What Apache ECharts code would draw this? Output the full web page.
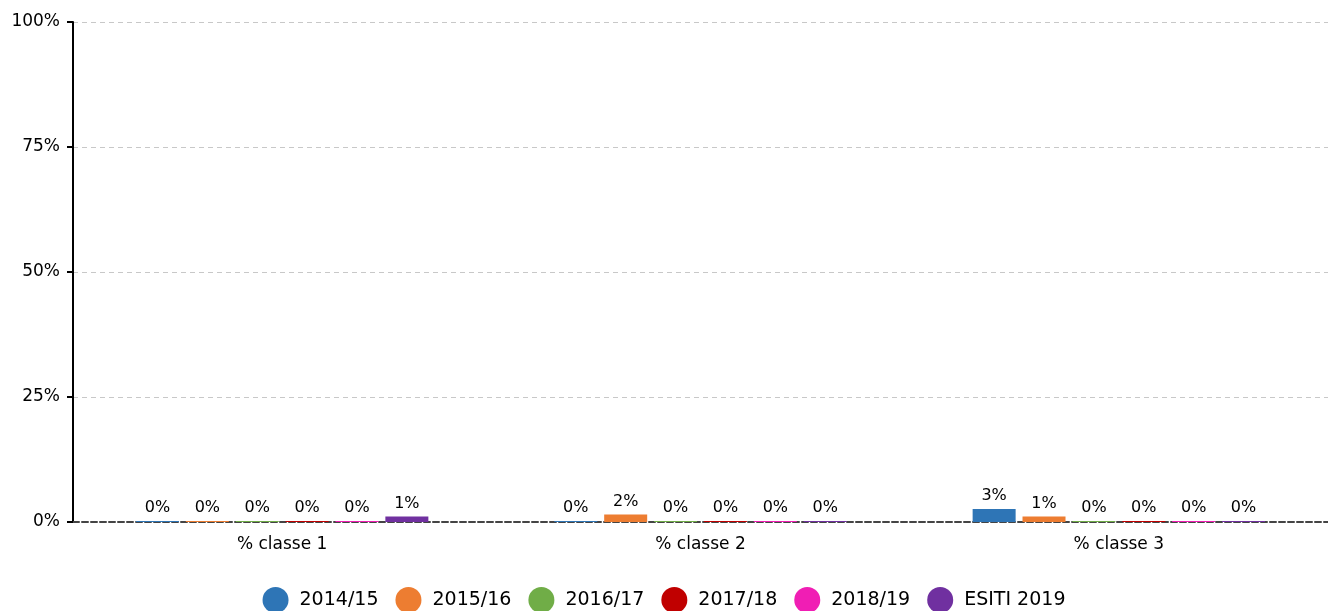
<!DOCTYPE html>
<html>
<head>
<meta charset="utf-8">
<script src="https://cdn.jsdelivr.net/npm/echarts@6/dist/echarts.min.js"></script>
<style>
  html, body { margin: 0; padding: 0; background: #fff; }
  #main { width: 1328px; height: 611px; }
</style>
</head>
<body>
<div id="main"></div>
<script>
// categorie e serie
var categories = ['% classe 1', '% classe 2', '% classe 3']
var seriesNames = ['2014/15', '2015/16', '2016/17', '2017/18', '2018/19', 'ESITI 2019']
var colors = ['#2e75b6', '#ed7d31', '#70ad47', '#c00000', '#f01eb4', '#7030a0']
var v201415 = [0, 0, 2.6]
var v201516 = [0, 1.5, 1.1]
var v201617 = [0, 0, 0]
var v201718 = [0, 0, 0]
var v201819 = [0, 0, 0]
var vEsiti = [1.1, 0, 0]
var yTicks = [0, 25, 50, 75, 100]

var values = [v201415, v201516, v201617, v201718, v201819, vEsiti]
var font = 'DejaVu Sans'

var myChart = echarts.init(document.getElementById('main'))

var series = seriesNames.map(function (name, i) {
  return {
    name: name,
    type: 'bar',
    data: values[i],
    barWidth: 43,
    barGap: '16%',
    barMinHeight: 1,
    itemStyle: { color: colors[i] },
    label: {
      show: true,
      position: 'top',
      distance: 5,
      color: '#000',
      fontFamily: font,
      fontSize: 16,
      formatter: function (p) { return Math.round(p.value) + '%' }
    }
  }
})

var option = {
  backgroundColor: '#fff',
  animation: false,
  color: colors,
  grid: { left: 73, right: 0, top: 22, bottom: 89 },
  legend: {
    top: 582,
    left: 'center',
    icon: 'circle',
    itemWidth: 26,
    itemHeight: 26,
    itemGap: 17,
    textStyle: { fontFamily: font, fontSize: 19, color: '#000', padding: [0, 0, 0, 6] },
    data: seriesNames
  },
  xAxis: {
    type: 'category',
    data: categories,
    axisTick: { show: false },
    axisLine: { lineStyle: { color: '#444', width: 2, type: [6, 3] } },
    axisLabel: { color: '#000', fontFamily: font, fontSize: 17, margin: 14 }
  },
  yAxis: {
    type: 'value',
    min: yTicks[0],
    max: yTicks[yTicks.length - 1],
    interval: 25,
    axisLine: { show: true, lineStyle: { color: '#000', width: 2 } },
    axisTick: { show: true, length: 6, lineStyle: { color: '#000', width: 2 } },
    axisLabel: { color: '#000', fontFamily: font, fontSize: 17, margin: 13, formatter: '{value}%' },
    splitLine: { lineStyle: { color: '#c8c8c8', type: [5, 4] } }
  },
  series: series
}
myChart.setOption(option)
</script>
</body>
</html>
